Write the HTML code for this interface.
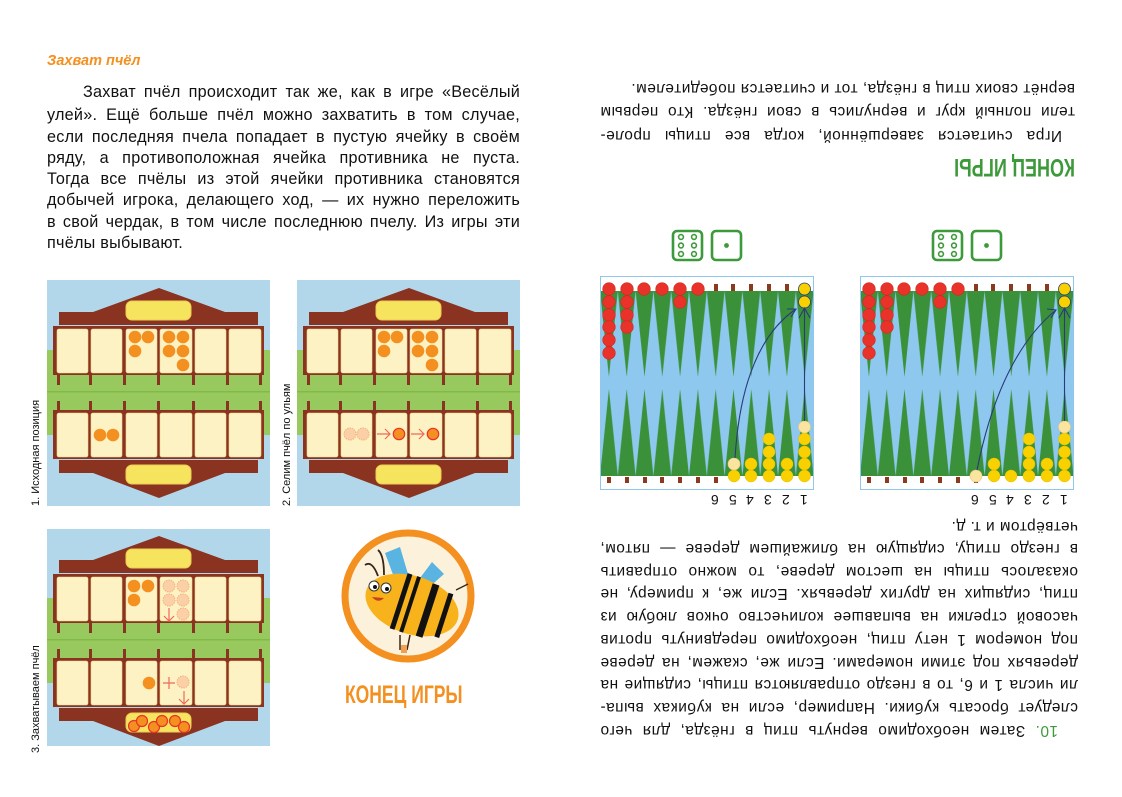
<!DOCTYPE html>
<html><head><meta charset="utf-8">
<style>
*{margin:0;padding:0;box-sizing:border-box}
body{width:1122px;height:797px;background:#fff;position:relative;overflow:hidden;font-family:"Liberation Sans","DejaVu Sans",sans-serif;color:#111}
.abs{position:absolute}
.ln{position:absolute;white-space:nowrap;text-align:justify;text-align-last:justify;font-size:16.2px;line-height:22px;letter-spacing:0.25px}
.nl{text-align-last:left}
.vl{position:absolute;transform:rotate(-90deg);transform-origin:0 0;font-size:11px;line-height:13px;white-space:nowrap}
#rp{position:absolute;left:561px;top:0;width:561px;height:797px;transform:rotate(180deg)}
#rp .ln{font-size:15.4px;letter-spacing:0.5px}
.num{position:absolute;font-size:14px;transform:rotate(180deg);line-height:14px}
</style></head><body>

<svg width="0" height="0" style="position:absolute">
<defs>
<g id="hive">
<rect x="2" y="2" width="223" height="226" fill="#b3d7ea"/>
<rect x="2" y="72" width="223" height="85" fill="#98c95f"/>
<rect x="2" y="113" width="223" height="1.5" fill="#80bb4a"/>
<polygon points="48,34 114,10 180,34" fill="#8a3320"/>
<polygon points="48,195 114,220 180,195" fill="#8a3320"/>
<rect x="14" y="34" width="199" height="13" fill="#8a3320"/>
<rect x="14" y="182" width="199" height="13" fill="#8a3320"/>
<rect x="8" y="48" width="211" height="49" fill="#8a3320"/>
<rect x="8" y="132" width="211" height="49" fill="#8a3320"/>
<g fill="#8a3320">
<rect x="12" y="96" width="3" height="11"/><rect x="44" y="96" width="3" height="11"/><rect x="78" y="96" width="3" height="11"/><rect x="112" y="96" width="3" height="11"/><rect x="147" y="96" width="3" height="11"/><rect x="181" y="96" width="3" height="11"/><rect x="214" y="96" width="3" height="11"/>
<rect x="12" y="123" width="3" height="10"/><rect x="44" y="123" width="3" height="10"/><rect x="78" y="123" width="3" height="10"/><rect x="112" y="123" width="3" height="10"/><rect x="147" y="123" width="3" height="10"/><rect x="181" y="123" width="3" height="10"/><rect x="214" y="123" width="3" height="10"/>
</g>
<g fill="#fdf2c3" stroke="#f0d890" stroke-width="0.6">
<rect x="12" y="51" width="31" height="44" rx="2"/><rect x="46" y="51" width="31" height="44" rx="2"/><rect x="81" y="51" width="31" height="44" rx="2"/><rect x="115" y="51" width="32" height="44" rx="2"/><rect x="150" y="51" width="31" height="44" rx="2"/><rect x="184" y="51" width="32" height="44" rx="2"/>
<rect x="12" y="135" width="31" height="44" rx="2"/><rect x="46" y="135" width="31" height="44" rx="2"/><rect x="81" y="135" width="31" height="44" rx="2"/><rect x="115" y="135" width="32" height="44" rx="2"/><rect x="150" y="135" width="31" height="44" rx="2"/><rect x="184" y="135" width="32" height="44" rx="2"/>
</g>
<rect x="81" y="23" width="65" height="19" rx="6" fill="#f6e45e" stroke="#eccd55"/>
<rect x="81" y="187" width="65" height="19" rx="6" fill="#f6e45e" stroke="#eccd55"/>
</g>
<pattern id="tt" x="0" y="15" width="17.8" height="86" patternUnits="userSpaceOnUse"><polygon points="0,0 17.8,0 8.9,86" fill="#3b913a"/></pattern>
<pattern id="tb" x="0" y="113" width="17.8" height="87" patternUnits="userSpaceOnUse"><polygon points="0,87 17.8,87 8.9,0" fill="#3b913a"/></pattern>
<g id="bgb">
<rect x="0.5" y="0.5" width="213" height="213" fill="#fff" stroke="#8ec8ee"/>
<rect x="1" y="15" width="212" height="185" fill="#8ec8ee"/>
<rect x="1" y="15" width="212" height="86" fill="url(#tt)"/>
<rect x="1" y="113" width="212" height="87" fill="url(#tb)"/>
<g fill="#8b3a1e">
<rect x="7" y="201" width="4" height="6"/><rect x="25" y="201" width="4" height="6"/><rect x="43" y="201" width="4" height="6"/><rect x="60" y="201" width="4" height="6"/><rect x="78" y="201" width="4" height="6"/><rect x="96" y="201" width="4" height="6"/><rect x="114" y="201" width="4" height="6"/>
<rect x="114" y="8" width="4" height="7"/><rect x="131" y="8" width="4" height="7"/><rect x="149" y="8" width="4" height="7"/><rect x="167" y="8" width="4" height="7"/><rect x="185" y="8" width="4" height="7"/>
</g>
<g fill="#e8322a" stroke="#d02820" stroke-width="0.6">
<circle cx="9" cy="13" r="6.3"/><circle cx="9" cy="26" r="6.3"/><circle cx="9" cy="39" r="6.3"/><circle cx="9" cy="51" r="6.3"/><circle cx="9" cy="64" r="6.3"/><circle cx="9" cy="77" r="6.3"/>
<circle cx="27" cy="13" r="6.3"/><circle cx="27" cy="26" r="6.3"/><circle cx="27" cy="39" r="6.3"/><circle cx="27" cy="51" r="6.3"/>
<circle cx="44" cy="13" r="6.3"/><circle cx="62" cy="13" r="6.3"/>
<circle cx="80" cy="13" r="6.3"/><circle cx="80" cy="26" r="6.3"/>
<circle cx="98" cy="13" r="6.3"/>
</g>
<g fill="#f9d000" stroke="#2a3a7a" stroke-width="0.8">
<circle cx="204.5" cy="13" r="6"/><circle cx="204.5" cy="26" r="6"/>
</g>
</g>
</defs>
</svg>

<!-- LEFT PAGE -->
<div class="abs" style="left:47px;top:53px;color:#f39020;font-size:14.5px;font-weight:bold;font-style:italic">Захват пчёл</div>
<div class="ln" style="left:83px;top:81px;width:437px">Захват пчёл происходит так же, как в игре «Весёлый</div>
<div class="ln" style="left:47px;top:104px;width:473px">улей». Ещё больше пчёл можно захватить в том случае,</div>
<div class="ln" style="left:47px;top:126px;width:473px">если последняя пчела попадает в пустую ячейку в своём</div>
<div class="ln" style="left:47px;top:147px;width:473px">ряду, а противоположная ячейка противника не пуста.</div>
<div class="ln" style="left:47px;top:168px;width:473px">Тогда все пчёлы из этой ячейки противника становятся</div>
<div class="ln" style="left:47px;top:189px;width:473px">добычей игрока, делающего ход, — их нужно переложить</div>
<div class="ln" style="left:47px;top:211px;width:473px">в свой чердак, в том числе последнюю пчелу. Из игры эти</div>
<div class="ln nl" style="left:47px;top:232px;width:473px">пчёлы выбывают.</div>

<svg class="abs" style="left:45px;top:278px" width="230" height="230" viewBox="0 0 230 230">
<use href="#hive"/>
<g fill="#f39020"><circle cx="90" cy="59" r="6.3"/><circle cx="103" cy="59" r="6.3"/><circle cx="90" cy="73" r="6.3"/>
<circle cx="124" cy="59" r="6.3"/><circle cx="138" cy="59" r="6.3"/><circle cx="124" cy="73" r="6.3"/><circle cx="138" cy="73" r="6.3"/><circle cx="138" cy="87" r="6.3"/>
<circle cx="55" cy="157" r="6.3"/><circle cx="68" cy="157" r="6.3"/></g>
</svg>

<svg class="abs" style="left:295px;top:278px" width="230" height="230" viewBox="0 0 230 230">
<use href="#hive"/>
<g fill="#f39020"><circle cx="89" cy="59" r="6.3"/><circle cx="102" cy="59" r="6.3"/><circle cx="89" cy="73" r="6.3"/>
<circle cx="123" cy="59" r="6.3"/><circle cx="137" cy="59" r="6.3"/><circle cx="123" cy="73" r="6.3"/><circle cx="137" cy="73" r="6.3"/><circle cx="137" cy="87" r="6.3"/></g>
<g fill="#fbd0a8" stroke="#f5b078" stroke-dasharray="1.5 1"><circle cx="55" cy="156" r="6"/><circle cx="68" cy="156" r="6"/></g>
<g fill="#f39020" stroke="#e8322a" stroke-width="1.2"><circle cx="104" cy="156" r="5.7"/><circle cx="138" cy="156" r="5.7"/></g>
<g stroke="#ee6a5a" stroke-width="1.2" fill="none"><path d="M82 156H95M90 151L95 156L90 161"/><path d="M116 156H129M124 151L129 156L124 161"/></g>
</svg>

<svg class="abs" style="left:45px;top:525px" width="230" height="230" viewBox="0 0 230 230">
<g transform="translate(0,1)"><use href="#hive"/></g>
<rect x="0" y="0" width="230" height="4" fill="#fff"/>
<rect x="0" y="221" width="230" height="9" fill="#fff"/>
<g fill="#f39020"><circle cx="89" cy="61" r="6.3"/><circle cx="103" cy="61" r="6.3"/><circle cx="89" cy="75" r="6.3"/><circle cx="104" cy="158" r="6.3"/></g>
<g fill="#fbd0a8" stroke="#f5b078" stroke-dasharray="1.5 1"><circle cx="124" cy="61" r="6"/><circle cx="138" cy="61" r="6"/><circle cx="124" cy="75" r="6"/><circle cx="138" cy="75" r="6"/><circle cx="138" cy="89" r="6"/><circle cx="138" cy="157" r="6"/></g>
<g stroke="#ee6a5a" stroke-width="1.2" fill="none"><path d="M124 83V96M119 91L124 96L129 91"/><path d="M118 158H130M124 152V164"/><path d="M139 166V179M134 174L139 179L144 174"/></g>
<g fill="#f39020" stroke="#e8322a" stroke-width="1.2"><circle cx="89" cy="201" r="5.5"/><circle cx="97" cy="196" r="5.5"/><circle cx="109" cy="202" r="5.5"/><circle cx="117" cy="196" r="5.5"/><circle cx="130" cy="196" r="5.5"/><circle cx="139" cy="202" r="5.5"/></g>
</svg>

<div class="vl" style="left:30px;top:506px">1. Исходная позиция</div>
<div class="vl" style="left:281px;top:506px">2. Селим пчёл по ульям</div>
<div class="vl" style="left:30px;top:753px">3. Захватываем пчёл</div>

<svg class="abs" style="left:338px;top:526px" width="140" height="140" viewBox="338 526 140 140">
<circle cx="408" cy="596" r="63" fill="#fcf2dc" stroke="#f39020" stroke-width="7"/>
<polygon points="385,553 400,547 408,574 395,580" fill="#5ab4e2"/>
<polygon points="420,578 432,562 444,574 426,590" fill="#5ab4e2"/>
<path d="M378 576 Q372 560 365 565 M384 575 Q384 555 378 550" stroke="#3a2418" stroke-width="1.8" fill="none"/>
<g transform="rotate(18 412 605)">
<ellipse cx="412" cy="605" rx="48" ry="29" fill="#f7b21c"/>
<rect x="398" y="576" width="5" height="58" fill="#111"/>
<rect x="408" y="576" width="4" height="58" fill="#111"/>
<rect x="425" y="578" width="7" height="55" fill="#111"/>
<rect x="443" y="582" width="5" height="46" fill="#111"/>
</g>
<circle cx="374" cy="586" r="5" fill="#fff" stroke="#333"/><circle cx="386" cy="588" r="5" fill="#fff" stroke="#333"/>
<circle cx="375" cy="587" r="2" fill="#111"/><circle cx="387" cy="589" r="2" fill="#111"/>
<path d="M372 597 Q378 604 384 598Z" fill="#c8401f"/>
<path d="M400 635 L400 650 M410 635 L407 650" stroke="#3a2418" stroke-width="1.5"/>
<rect x="401" y="645" width="6" height="8" fill="#f0a050"/>
<path d="M456 590 L468 584" stroke="#3a2418" stroke-width="1.3"/>
</svg>
<div class="abs" style="left:345px;top:681px;color:#f39020;font-weight:bold;font-size:25px;line-height:28px;white-space:nowrap;transform:scaleX(0.7);transform-origin:0 0">КОНЕЦ ИГРЫ</div>

<!-- RIGHT PAGE boards -->
<svg class="abs" style="left:600px;top:276px" width="216" height="216" viewBox="0 0 216 216">
<use href="#bgb"/>
<g fill="#f9d000" stroke="#e8c000" stroke-width="0.5">
<circle cx="204.5" cy="200" r="6"/><circle cx="204.5" cy="188" r="6"/><circle cx="204.5" cy="176" r="6"/><circle cx="204.5" cy="163" r="6"/>
<circle cx="187" cy="200" r="6"/><circle cx="187" cy="188" r="6"/>
<circle cx="169" cy="200" r="6"/><circle cx="169" cy="188" r="6"/><circle cx="169" cy="176" r="6"/><circle cx="169" cy="163" r="6"/>
<circle cx="151" cy="200" r="6"/><circle cx="151" cy="188" r="6"/>
<circle cx="134" cy="200" r="6"/></g>
<g fill="#fbe3a0" stroke="#e8c880" stroke-width="0.6"><circle cx="204.5" cy="151" r="6"/><circle cx="134" cy="188" r="6"/></g>
<g stroke="#2a3a7a" stroke-width="1.1" fill="none">
<path d="M204.5 145V32M199 42L204.5 32L210 42"/>
<path d="M135 182Q142 70 196 33M187 33L196 33L191 41"/></g>
</svg>
<svg class="abs" style="left:860px;top:276px" width="216" height="216" viewBox="0 0 216 216">
<use href="#bgb"/>
<g fill="#f9d000" stroke="#e8c000" stroke-width="0.5">
<circle cx="204.5" cy="200" r="6"/><circle cx="204.5" cy="188" r="6"/><circle cx="204.5" cy="176" r="6"/><circle cx="204.5" cy="163" r="6"/>
<circle cx="187" cy="200" r="6"/><circle cx="187" cy="188" r="6"/>
<circle cx="169" cy="200" r="6"/><circle cx="169" cy="188" r="6"/><circle cx="169" cy="176" r="6"/><circle cx="169" cy="163" r="6"/>
<circle cx="151" cy="200" r="6"/>
<circle cx="134" cy="200" r="6"/><circle cx="134" cy="188" r="6"/></g>
<g fill="#fbe3a0" stroke="#e8c880" stroke-width="0.6"><circle cx="204.5" cy="151" r="6"/><circle cx="116" cy="200" r="6"/></g>
<g stroke="#2a3a7a" stroke-width="1.1" fill="none">
<path d="M204.5 145V32M199 42L204.5 32L210 42"/>
<path d="M117 194Q140 80 196 34M187 33L196 34L191 42"/></g>
</svg>

<!-- dice -->
<svg class="abs" style="left:670px;top:228px" width="76" height="34">
<g fill="none" stroke="#3d9a3a" stroke-width="2.6"><rect x="3" y="3" width="29" height="29" rx="4"/><rect x="42" y="3" width="29" height="29" rx="4"/></g>
<g fill="#fff" stroke="#3d9a3a" stroke-width="1.6"><circle cx="11" cy="9" r="2.4"/><circle cx="24" cy="9" r="2.4"/><circle cx="11" cy="17.5" r="2.4"/><circle cx="24" cy="17.5" r="2.4"/><circle cx="11" cy="26" r="2.4"/><circle cx="24" cy="26" r="2.4"/><circle cx="56.5" cy="17.5" r="1.6" fill="#3d9a3a"/></g>
</svg>
<svg class="abs" style="left:930px;top:228px" width="76" height="34">
<g fill="none" stroke="#3d9a3a" stroke-width="2.6"><rect x="3" y="3" width="29" height="29" rx="4"/><rect x="42" y="3" width="29" height="29" rx="4"/></g>
<g fill="#fff" stroke="#3d9a3a" stroke-width="1.6"><circle cx="11" cy="9" r="2.4"/><circle cx="24" cy="9" r="2.4"/><circle cx="11" cy="17.5" r="2.4"/><circle cx="24" cy="17.5" r="2.4"/><circle cx="11" cy="26" r="2.4"/><circle cx="24" cy="26" r="2.4"/><circle cx="56.5" cy="17.5" r="1.6" fill="#3d9a3a"/></g>
</svg>

<!-- numbers -->
<div class="num" style="left:800px;top:493px">1</div><div class="num" style="left:782px;top:493px">2</div><div class="num" style="left:764px;top:493px">3</div><div class="num" style="left:746px;top:493px">4</div><div class="num" style="left:729px;top:493px">5</div><div class="num" style="left:711px;top:493px">6</div>
<div class="num" style="left:1060px;top:493px">1</div><div class="num" style="left:1042px;top:493px">2</div><div class="num" style="left:1024px;top:493px">3</div><div class="num" style="left:1006px;top:493px">4</div><div class="num" style="left:989px;top:493px">5</div><div class="num" style="left:971px;top:493px">6</div>

<!-- rotated right page text -->
<div id="rp">
<div class="ln" style="left:64px;top:56px;width:458px"><span style="color:#3d9a3a">10.</span> Затем необходимо вернуть птиц в гнёзда, для чего</div>
<div class="ln" style="left:44px;top:79px;width:478px">следует бросать кубики. Например, если на кубиках выпа-</div>
<div class="ln" style="left:44px;top:102px;width:478px">ли числа 1 и 6, то в гнездо отправляются птицы, сидящие на</div>
<div class="ln" style="left:44px;top:124px;width:478px">деревьях под этими номерами. Если же, скажем, на дереве</div>
<div class="ln" style="left:44px;top:147px;width:478px">под номером 1 нету птиц, необходимо передвинуть против</div>
<div class="ln" style="left:44px;top:170px;width:478px">часовой стрелки на выпавшее количество очков любую из</div>
<div class="ln" style="left:44px;top:193px;width:478px">птиц, сидящих на других деревьях. Если же, к примеру, не</div>
<div class="ln" style="left:44px;top:215px;width:478px">оказалось птицы на шестом дереве, то можно отправить</div>
<div class="ln" style="left:44px;top:238px;width:478px">в гнездо птицу, сидящую на ближайшем дереве — пятом,</div>
<div class="ln nl" style="left:44px;top:260px;width:478px">четвёртом и т. д.</div>
<div class="abs" style="left:47px;top:616px;color:#3d9a3a;font-weight:bold;font-size:25px;line-height:28px;white-space:nowrap;transform:scaleX(0.72);transform-origin:0 0">КОНЕЦ ИГРЫ</div>
<div class="ln" style="left:60px;top:651px;width:462px">Игра считается завершённой, когда все птицы проле-</div>
<div class="ln" style="left:47px;top:675px;width:475px">тели полный круг и вернулись в свои гнёзда. Кто первым</div>
<div class="ln nl" style="left:47px;top:698px;width:475px">вернёт своих птиц в гнёзда, тот и считается победителем.</div>
</div>
</body></html>
